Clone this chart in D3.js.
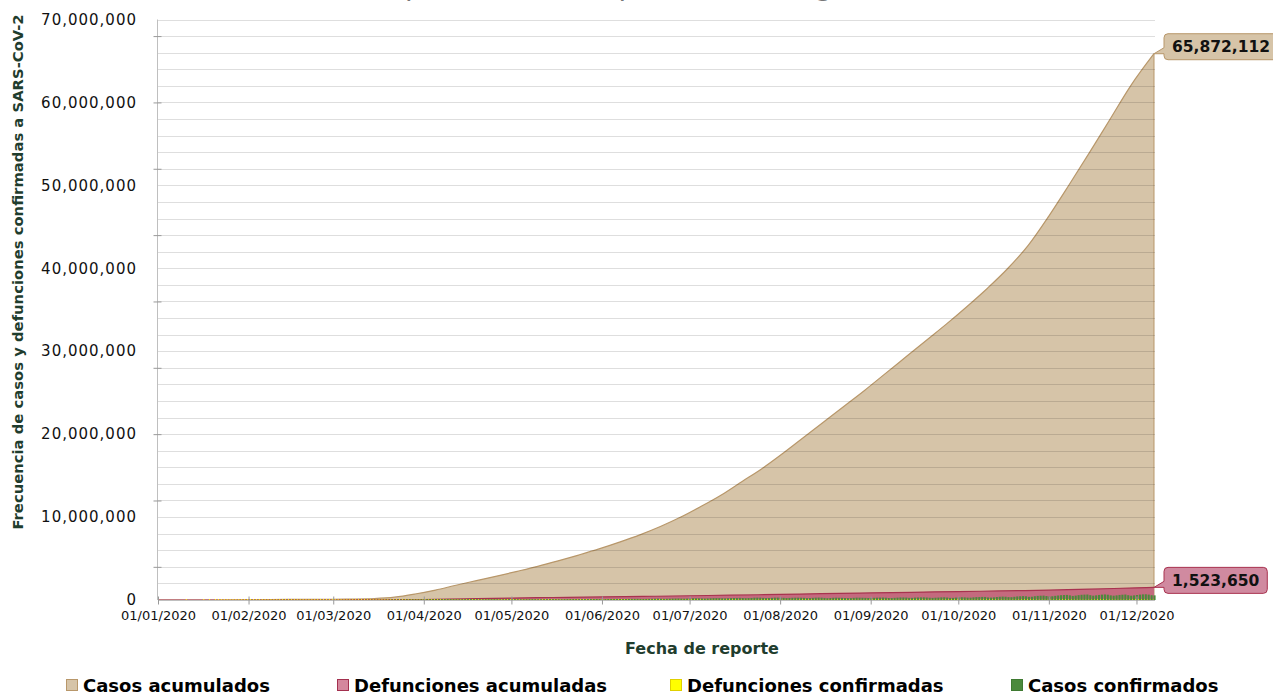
<!DOCTYPE HTML>
<html>

<head>
    <meta charset="utf-8">
    <title>Casos y defunciones</title>
    <script src="https://d3js.org/d3.v7.min.js"></script>
    <style>
        body { margin: 0; background: #fff; }
        text { font-family: "DejaVu Sans", sans-serif; }
    </style>
</head>

<body>
    <div class="chart"></div>
</body>
<script type="text/javascript">
    // casos acumulados (millones), fechas de reporte
    var fechasCasos = ["2020-01-01", "2020-01-22", "2020-02-01", "2020-02-15", "2020-03-01", "2020-03-08", "2020-03-15",
        "2020-03-22", "2020-03-29", "2020-04-05", "2020-04-12", "2020-04-19", "2020-04-26", "2020-05-03", "2020-05-10",
        "2020-05-17", "2020-05-24", "2020-05-31", "2020-06-07", "2020-06-14", "2020-06-21", "2020-06-28", "2020-07-05",
        "2020-07-12", "2020-07-19", "2020-07-26", "2020-08-02", "2020-08-09", "2020-08-16", "2020-08-23", "2020-08-30",
        "2020-09-06", "2020-09-13", "2020-09-20", "2020-09-27", "2020-10-04", "2020-10-11", "2020-10-18", "2020-10-25",
        "2020-11-01", "2020-11-08", "2020-11-15", "2020-11-22", "2020-11-29", "2020-12-07"];
    var casosAcumulados = [0, 0.0006, 0.012, 0.069, 0.088, 0.11, 0.17,
        0.34, 0.72, 1.2, 1.78, 2.33, 2.88, 3.46, 4.06,
        4.72, 5.42, 6.16, 6.98, 7.86, 8.86, 10.0, 11.3,
        12.7, 14.3, 15.9, 17.7, 19.6, 21.5, 23.4, 25.3,
        27.3, 29.3, 31.3, 33.3, 35.4, 37.6, 40.0, 42.8,
        46.3, 50.1, 54.0, 58.0, 62.0, 65.872112];

    // defunciones acumuladas (millones)
    var fechasDefunciones = ["2020-01-01", "2020-02-01", "2020-03-01", "2020-03-15", "2020-04-01", "2020-04-15",
        "2020-05-01", "2020-05-15", "2020-06-01", "2020-06-15", "2020-07-01", "2020-07-15", "2020-08-01", "2020-08-15",
        "2020-09-01", "2020-09-15", "2020-10-01", "2020-10-15", "2020-11-01", "2020-11-15", "2020-12-01", "2020-12-07"];
    var defuncionesAcumuladas = [0, 0.00026, 0.003, 0.0065, 0.047, 0.13,
        0.23, 0.30, 0.37, 0.43, 0.51, 0.58, 0.68, 0.76,
        0.85, 0.93, 1.01, 1.09, 1.19, 1.30, 1.47, 1.52365];

    // casos confirmados diarios (miles), desde 01/01/2020
    var casosDiarios = [
        0, 0, 0, 0, 0, 0, 0, 0, 0, 0, 0, 0, 0, 0, 0, 0, 0, 0, 0.1, 0.1, 0.1, 0.2, 0.3, 0.5, 0.7, 0.8, 1.3, 1.7, 1.8, 2.0, 2.1,
        2.6, 2.8, 3.2, 3.9, 3.7, 3.2, 3.4, 2.7, 3.0, 2.5, 2.0, 2.0, 15.1, 5.1, 2.6, 2.1, 2.0, 1.9, 1.7, 0.6, 0.9, 0.6, 0.6, 0.6, 0.9, 0.8, 1.2, 1.3, 1.7,
        1.9, 1.9, 2.3, 2.2, 2.8, 3.9, 4.0, 3.9, 3.9, 4.4, 7.0, 8.4, 11.9, 12.6, 13.9, 14.8, 17.6, 22.3, 29.2, 32.8, 35, 36, 42, 45, 51, 62, 66, 65, 60, 62, 75,
        76, 80, 85, 79, 74, 72, 80, 82, 86, 90, 84, 76, 71, 75, 80, 87, 93, 84, 77, 72, 76, 80, 86, 88, 90, 82, 72, 76, 79, 88,
        92, 88, 80, 78, 82, 90, 94, 97, 89, 82, 80, 86, 92, 96, 99, 95, 86, 84, 95, 103, 106, 108, 101, 95, 92, 98, 106, 112, 116, 122, 108,
        100, 104, 118, 125, 128, 126, 118, 108, 114, 126, 134, 138, 140, 131, 125, 130, 138, 142, 158, 168, 150, 140, 152, 164, 172, 180, 186, 170, 160, 178,
        196, 210, 212, 205, 190, 180, 195, 212, 225, 230, 228, 210, 200, 218, 232, 242, 250, 258, 240, 222, 232, 245, 280, 285, 282, 260, 236, 248, 262, 290, 292,
        282, 262, 234, 250, 268, 280, 284, 278, 262, 226, 238, 262, 285, 292, 280, 250, 220, 240, 270, 282, 268, 262, 242, 228, 232, 262, 285, 280, 272, 258, 246,
        252, 268, 282, 292, 298, 280, 240, 236, 262, 286, 308, 306, 296, 262, 260, 292, 306, 318, 322, 300, 276, 256, 278, 296, 318, 330, 300, 262, 262, 294,
        318, 330, 320, 290, 282, 318, 348, 354, 372, 368, 312, 290, 320, 360, 392, 410, 395, 348, 338, 384, 426, 448, 470, 446, 384, 398, 454, 498, 520, 528, 478,
        420, 450, 500, 542, 580, 600, 616, 560, 490, 530, 586, 630, 648, 660, 580, 520, 560, 610, 650, 670, 640, 560, 520, 560, 610, 640, 660, 580, 520, 560,
        600, 650, 680, 690, 650, 580, 560
    ];

    // defunciones confirmadas diarias (miles), desde 01/01/2020
    var defuncionesDiarias = [
        0, 0, 0, 0, 0, 0, 0, 0, 0, 0, 0.001, 0, 0, 0, 0, 0, 0.001, 0, 0.001, 0, 0.003, 0.011, 0.008, 0.016, 0.015, 0.024, 0.026, 0.026, 0.038, 0.043, 0.046,
        0.045, 0.057, 0.064, 0.065, 0.073, 0.073, 0.086, 0.089, 0.097, 0.108, 0.097, 0.254, 0.121, 0.143, 0.142, 0.105, 0.098, 0.136, 0.115, 0.118, 0.109, 0.097, 0.150, 0.071, 0.052, 0.029, 0.044, 0.047, 0.035,
        0.058, 0.067, 0.072, 0.084, 0.080, 0.100, 0.104, 0.112, 0.202, 0.211, 0.274, 0.329, 0.350, 0.444, 0.344, 0.858, 0.887, 1.0, 1.4, 1.7, 1.6, 1.9, 1.8, 2.5, 2.5, 3.2, 3.5, 3.6, 3.6, 3.9, 4.4,
        4.9, 6.0, 5.9, 6.3, 5.2, 4.7, 6.6, 7.3, 6.7, 7.3, 6.1, 5.6, 5.0, 6.4, 7.8, 7.5, 8.5, 6.5, 5.2, 4.8, 7.1, 6.7, 6.5, 6.2, 5.5, 3.7, 3.9, 6.2, 6.4, 5.8,
        5.4, 5.1, 3.7, 3.4, 4.6, 5.9, 5.5, 5.2, 4.6, 3.6, 3.4, 4.0, 5.3, 5.1, 5.2, 4.6, 3.5, 3.2, 4.3, 5.0, 5.1, 5.4, 4.5, 3.2, 3.0, 4.2, 5.3, 4.8, 4.8, 4.3, 3.1,
        3.0, 4.2, 5.1, 5.2, 4.9, 4.2, 3.1, 3.2, 4.7, 5.0, 5.1, 4.9, 4.3, 3.6, 3.2, 4.4, 6.6, 5.0, 5.2, 4.4, 3.8, 3.4, 5.0, 5.3, 4.9, 5.2, 4.3, 3.4, 3.5, 5.0,
        5.1, 4.9, 5.2, 4.6, 4.1, 3.8, 5.2, 5.5, 5.3, 5.3, 5.2, 4.6, 4.0, 5.6, 5.8, 5.6, 6.2, 5.9, 4.9, 4.0, 6.0, 7.0, 6.6, 6.2, 5.9, 4.6, 4.2, 6.4, 7.0, 6.5, 6.2,
        6.0, 5.2, 4.3, 6.1, 6.9, 6.8, 6.4, 6.0, 5.0, 4.4, 6.0, 6.5, 6.6, 6.2, 5.8, 4.8, 4.1, 6.4, 6.5, 6.2, 5.9, 5.6, 4.5, 3.9, 6.0, 6.3, 6.0, 5.8, 5.4, 4.3, 3.9,
        5.8, 6.3, 6.0, 5.7, 5.4, 4.4, 3.9, 4.9, 6.2, 6.0, 5.7, 5.4, 4.2, 3.8, 5.6, 6.5, 6.1, 5.6, 5.3, 4.2, 4.0, 5.8, 6.4, 6.1, 5.8, 5.5, 4.1, 3.8, 5.5, 6.2,
        6.0, 5.6, 5.4, 4.5, 3.7, 5.4, 6.3, 6.0, 5.8, 5.4, 4.2, 3.9, 5.5, 6.6, 6.2, 6.0, 5.6, 4.4, 4.2, 6.0, 6.8, 6.6, 6.4, 6.0, 4.6, 4.5, 6.9, 7.6, 7.5, 7.4, 6.6,
        5.6, 5.5, 8.0, 9.2, 9.0, 8.8, 8.2, 6.4, 6.0, 9.4, 10.0, 10.2, 9.6, 8.8, 6.8, 6.4, 10.6, 11.0, 11.2, 10.8, 9.4, 7.4, 7.0, 11.6, 12.2, 11.4, 10.4, 9.6, 7.6, 7.4,
        12.0, 12.8, 12.6, 12.4, 10.8, 8.4, 7.6
    ];

    var etiquetasFechas = ["2020-01-01", "2020-02-01", "2020-03-01", "2020-04-01", "2020-05-01", "2020-06-01",
        "2020-07-01", "2020-08-01", "2020-09-01", "2020-10-01", "2020-11-01", "2020-12-01"];
    var valoresEjeY = [0, 10e6, 20e6, 30e6, 40e6, 50e6, 60e6, 70e6];

    var series = ["Casos acumulados", "Defunciones acumuladas", "Defunciones confirmadas", "Casos confirmados"];
    var colores = ["#d6c4a8", "#d4879d", "#ffff00", "#4b8a3c"];
    var bordes = ["#b8976a", "#a3304f", "#e0d000", "#3f7a31"];

    var tituloInicio = "Casos acumulados de COVID-19 ";
    var tituloFin = "(por fecha de reporte) a nivel global";

    var width = 1273,
        height = 696;
    var margin = { top: 19.5, right: 119, bottom: 96, left: 158 };

    var parse = d3.timeParse("%Y-%m-%d");
    var fmtFecha = d3.timeFormat("%d/%m/%Y");
    var fmtNum = d3.format(",");

    var x = d3.scaleTime()
        .domain([parse("2020-01-01"), parse("2020-12-07")])
        .range([margin.left, width - margin.right]);
    var y = d3.scaleLinear()
        .domain([0, 70e6])
        .range([height - margin.bottom, margin.top]);

    var svg = d3.select(".chart").append("svg")
        .attr("width", width)
        .attr("height", height);

    // titulo: en el original queda casi fuera de la imagen, solo asoman los trazos bajos
    var tit = svg.append("text")
        .attr("y", -5)
        .attr("fill", "#777")
        .style("font-size", "28px");
    tit.append("tspan").text(tituloInicio);
    tit.append("tspan").text(tituloFin);
    var wIni = tit.select("tspan").node().getComputedTextLength();
    tit.attr("x", 394 - wIni);

    // lineas de cuadricula cada 2,000,000
    var grid = d3.range(2e6, 70e6 + 1, 2e6);

    var casos = fechasCasos.map(function(f, i) {
        return { fecha: parse(f), v: casosAcumulados[i] * 1e6 };
    });
    var defs = fechasDefunciones.map(function(f, i) {
        return { fecha: parse(f), v: defuncionesAcumuladas[i] * 1e6 };
    });

    var area = d3.area()
        .curve(d3.curveMonotoneX)
        .x(function(d) { return x(d.fecha); })
        .y0(y(0))
        .y1(function(d) { return y(d.v); });
    var topLine = d3.line()
        .curve(d3.curveMonotoneX)
        .x(function(d) { return x(d.fecha); })
        .y(function(d) { return y(d.v); });

    svg.append("path")
        .datum(casos)
        .attr("d", area)
        .attr("fill", colores[0]);
    svg.append("path")
        .datum(casos)
        .attr("d", topLine)
        .attr("fill", "none")
        .attr("stroke", bordes[0])
        .attr("stroke-width", 1.2);
    // borde derecho
    var ult = casos[casos.length - 1];
    svg.append("line")
        .attr("x1", x(ult.fecha)).attr("x2", x(ult.fecha))
        .attr("y1", y(ult.v)).attr("y2", y(0))
        .attr("stroke", bordes[0]).attr("stroke-width", 1);

    svg.append("path")
        .datum(defs)
        .attr("d", area)
        .attr("fill", "#c46a7e");
    svg.append("path")
        .datum(defs)
        .attr("d", topLine)
        .attr("fill", "none")
        .attr("stroke", "#a8324f")
        .attr("stroke-width", 1.2);

    // barras diarias (columnas agrupadas: defunciones a la izquierda, casos a la derecha)
    var dia = function(i) { return d3.timeDay.offset(parse("2020-01-01"), i); };

    svg.append("g").selectAll("rect")
        .data(defuncionesDiarias)
        .join("rect")
        .attr("x", function(d, i) { return x(dia(i)) - 1.4; })
        .attr("width", 0.9)
        .attr("y", function(d) { return d > 0 ? Math.min(y(d * 1e3), y(0) - 1) : y(0); })
        .attr("height", function(d) { return d > 0 ? Math.max(y(0) - y(d * 1e3), 1) : 0; })
        .attr("fill", colores[2]);

    svg.append("g").selectAll("rect")
        .data(casosDiarios)
        .join("rect")
        .attr("x", function(d, i) { return x(dia(i)) - 0.5; })
        .attr("width", 2.1)
        .attr("y", function(d) { return y(d * 1e3); })
        .attr("height", function(d) { return y(0) - y(d * 1e3); })
        .attr("fill", colores[3]);

    // cuadricula encima, semitransparente
    svg.append("g").selectAll("line")
        .data(grid)
        .join("line")
        .attr("x1", margin.left)
        .attr("x2", width - margin.right + 1)
        .attr("y1", function(d) { return Math.round(y(d)) + 0.5; })
        .attr("y2", function(d) { return Math.round(y(d)) + 0.5; })
        .attr("stroke", "#000")
        .attr("stroke-opacity", 0.13);

    // eje Y
    var yAxis = d3.axisLeft(y)
        .tickValues(d3.range(4e6, 70e6, 8e6))
        .tickSize(4)
        .tickFormat("");
    var gy = svg.append("g")
        .attr("transform", "translate(" + (margin.left - 0.5) + ",0)")
        .call(yAxis);
    gy.selectAll(".tick line").attr("x2", 4).attr("x1", -4).attr("stroke", "#999");
    gy.select(".domain").attr("stroke", "#bfbfbf").attr("d", "M0," + y(0) + "V" + y(70e6));

    svg.append("g").selectAll("text")
        .data(valoresEjeY)
        .join("text")
        .attr("x", margin.left - 21)
        .attr("y", function(d) { return y(d); })
        .attr("dy", "0.35em")
        .attr("text-anchor", "end")
        .attr("fill", "#111")
        .style("font-size", "15px")
        .style("letter-spacing", "1px")
        .text(function(d) { return fmtNum(d); });

    // eje X
    var xAxis = d3.axisBottom(x)
        .tickValues(etiquetasFechas.map(parse))
        .tickSize(4)
        .tickFormat(fmtFecha);
    var gx = svg.append("g")
        .attr("transform", "translate(0," + (y(0) + 0.5) + ")")
        .call(xAxis);
    gx.select(".domain").attr("stroke", "#bfbfbf").attr("d", "M" + margin.left + ",0H" + (width - margin.right + 1));
    gx.selectAll(".tick line").attr("y1", -4).attr("y2", 4).attr("stroke", "#999");
    gx.selectAll(".tick text")
        .attr("y", 10)
        .attr("fill", "#111")
        .style("font-family", "DejaVu Sans")
        .style("font-size", "13px");

    // titulos de ejes
    svg.append("text")
        .attr("x", 702)
        .attr("y", 654)
        .attr("text-anchor", "middle")
        .attr("fill", "#1f3d2e")
        .style("font-weight", "bold")
        .style("font-size", "16px")
        .text("Fecha de reporte");

    svg.append("text")
        .attr("transform", "translate(23,272) rotate(-90)")
        .attr("text-anchor", "middle")
        .attr("fill", "#1f3d2e")
        .style("font-weight", "bold")
        .style("font-size", "14.8px")
        .text("Frecuencia de casos y defunciones confirmadas a SARS-CoV-2");

    // etiquetas del ultimo valor
    function callout(d, fill, stroke) {
        var px = x(d.fecha), py = y(d.v);
        var g = svg.append("g");
        var t = g.append("text")
            .attr("x", px + 18)
            .attr("y", py - 7)
            .attr("dy", "0.36em")
            .attr("fill", "#111")
            .style("font-weight", "bold")
            .style("font-size", "15.5px")
            .text(fmtNum(Math.round(d.v)));
        var w = t.node().getComputedTextLength();
        var bx = px + 10, by = py - 20, bw = w + 16, bh = 26;
        g.insert("path", "text")
            .attr("d", "M" + (bx + 4) + "," + by + "H" + (bx + bw - 4) + "Q" + (bx + bw) + "," + by + " " + (bx + bw) + "," + (by + 4) +
                "V" + (by + bh - 4) + "Q" + (bx + bw) + "," + (by + bh) + " " + (bx + bw - 4) + "," + (by + bh) +
                "H" + (bx + 4) + "Q" + bx + "," + (by + bh) + " " + bx + "," + (by + bh - 4) +
                "V" + (by + bh - 6) + "L" + px + "," + py + "L" + bx + "," + (by + bh - 12) +
                "V" + (by + 4) + "Q" + bx + "," + by + " " + (bx + 4) + "," + by + "Z")
            .attr("fill", fill)
            .attr("stroke", stroke)
            .attr("stroke-width", 1);
    }
    callout(ult, "#d6c4a8", "#b8976a");
    callout(defs[defs.length - 1], "#d08aa0", "#a8324f");

    // leyenda
    var legX = [66, 337, 670, 1011];
    var leg = svg.append("g").selectAll("g")
        .data(series)
        .join("g")
        .attr("transform", function(d, i) { return "translate(" + legX[i] + ",679)"; });
    leg.append("rect")
        .attr("x", 0.5).attr("y", 0.5)
        .attr("width", 11).attr("height", 11)
        .attr("fill", function(d, i) { return colores[i]; })
        .attr("stroke", function(d, i) { return bordes[i]; });
    leg.append("text")
        .attr("x", 17)
        .attr("y", 12.5)
        .attr("fill", "#000")
        .style("font-weight", "bold")
        .style("font-size", "18px")
        .text(function(d) { return d; });
</script>

</html>
